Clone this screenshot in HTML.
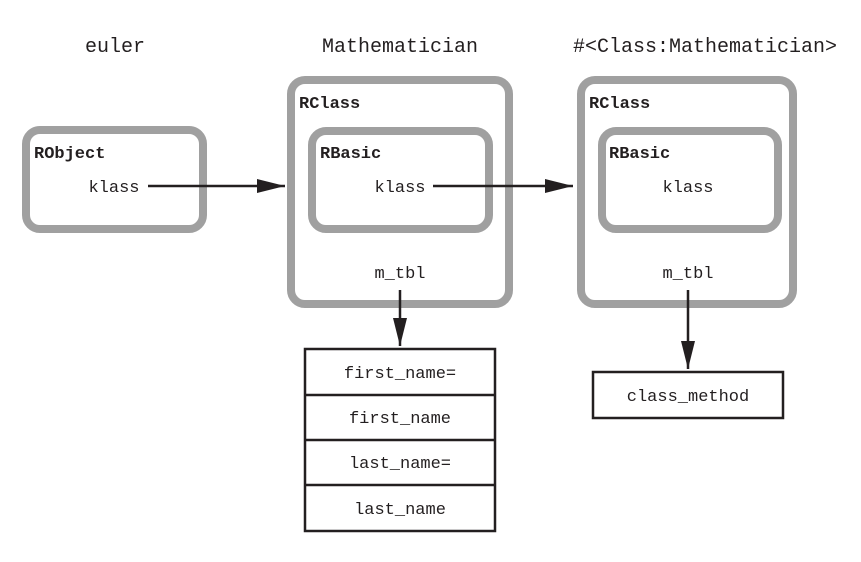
<!DOCTYPE html>
<html><head><style>
body{margin:0;background:#fff;width:861px;height:557px;overflow:hidden}
text{font-family:"Liberation Mono",monospace;fill:#231f20}
</style></head><body>
<svg width="861" height="557" viewBox="0 0 861 557" xmlns="http://www.w3.org/2000/svg">
<defs><marker id="a" markerWidth="10" markerHeight="10" refX="9" refY="5" orient="auto" markerUnits="userSpaceOnUse"><path d="M0,0 L10,5 L0,10 Z" fill="#231f20"/></marker>
<marker id="b" viewBox="0 0 10 10" markerWidth="28" markerHeight="14" refX="10" refY="5" orient="auto" markerUnits="userSpaceOnUse" preserveAspectRatio="none"><path d="M0,0 L10,5 L0,10 Z" fill="#231f20"/></marker></defs>
<g font-size="20" text-anchor="middle">
<text x="115" y="52">euler</text>
<text x="400" y="52">Mathematician</text>
<text x="705" y="52">#&lt;Class:Mathematician&gt;</text>
</g>
<g fill="none" stroke="#a0a0a0" stroke-width="8">
<rect x="26" y="130" width="177" height="99" rx="14"/>
<rect x="291" y="80" width="218" height="224" rx="14"/>
<rect x="312" y="131" width="177" height="98" rx="14"/>
<rect x="581" y="80" width="212" height="224" rx="14"/>
<rect x="602" y="131" width="176" height="98" rx="14"/>
</g>
<g font-size="17" font-weight="bold">
<text x="34" y="158">RObject</text>
<text x="299" y="108">RClass</text>
<text x="320" y="158">RBasic</text>
<text x="589" y="108">RClass</text>
<text x="609" y="158">RBasic</text>
</g>
<g font-size="17" text-anchor="middle">
<text x="114" y="192">klass</text>
<text x="400" y="192">klass</text>
<text x="688" y="192">klass</text>
<text x="400" y="278">m_tbl</text>
<text x="688" y="278">m_tbl</text>
</g>
<g stroke="#231f20" stroke-width="2.5" fill="none">
<line x1="148" y1="186" x2="285" y2="186" marker-end="url(#b)"/>
<line x1="433" y1="186" x2="573" y2="186" marker-end="url(#b)"/>
<line x1="400" y1="290" x2="400" y2="346" marker-end="url(#b)"/>
<line x1="688" y1="290" x2="688" y2="369" marker-end="url(#b)"/>
<rect x="305" y="349" width="190" height="182"/>
<line x1="305" y1="395" x2="495" y2="395"/>
<line x1="305" y1="440" x2="495" y2="440"/>
<line x1="305" y1="485" x2="495" y2="485"/>
<rect x="593" y="372" width="190" height="46"/>
</g>
<g font-size="17" text-anchor="middle">
<text x="400" y="378">first_name=</text>
<text x="400" y="423">first_name</text>
<text x="400" y="468">last_name=</text>
<text x="400" y="514">last_name</text>
<text x="688" y="401">class_method</text>
</g>
</svg>
</body></html>
